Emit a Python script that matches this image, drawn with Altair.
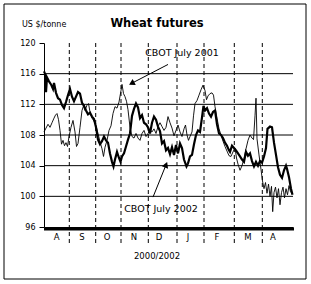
import altair as alt
import pandas as pd

# ---- data (x = trading-day index from start of August) ----
thick_day = [0, 1, 2, 3, 5, 7, 9, 10, 12, 14, 16, 18, 20, 22, 24, 26, 28, 30, 32, 34, 36, 38, 40, 42, 44, 46, 48, 50,
             52, 54, 56, 58, 60, 62, 64, 66, 68, 69.5, 71, 73, 75, 76.5, 78, 80, 82, 84, 86, 88, 90, 92, 94, 96, 98,
             100, 102, 104, 106, 108, 110, 112, 114, 116, 118, 120, 122, 124, 126, 128, 130, 132, 134, 136, 138, 140,
             142.5, 144, 146, 148, 150, 152, 154, 156, 158, 159.5, 161, 163, 165, 167, 169, 171, 173, 175, 177, 179,
             181, 183, 185, 186, 188, 190, 192, 194, 196, 198, 200, 202, 204, 206, 208, 210, 212, 214, 216, 218, 220,
             222, 223.5, 226, 228, 230, 232, 234, 236, 238, 240, 242, 243, 245, 247, 248.5]
thick_val = [116.3, 116.0, 113.6, 115.5, 115.0, 114.6, 114.0, 114.8, 113.5, 112.8, 112.6, 111.9, 111.5, 112.3, 113.2,
             114.0, 113.0, 112.4, 113.0, 113.6, 113.4, 112.2, 111.8, 111.2, 110.7, 110.9, 110.4, 110.1,
             109.0, 107.4, 106.8, 107.2, 107.8, 107.3, 107.0, 105.6, 104.5, 103.9, 104.8, 105.8, 105.0, 104.5, 105.2,
             105.6, 106.5, 107.4, 108.2, 110.5, 111.4, 112.1, 111.6, 110.2, 110.6,
             109.6, 109.4, 109.0, 108.2, 109.6, 110.4, 110.0, 109.1, 108.5, 106.9, 107.2, 106.0, 106.3, 105.5, 106.4,
             105.4, 106.7, 105.6, 106.9, 106.3, 104.8,
             103.9, 104.3, 105.2, 105.4, 106.8, 108.0, 108.6, 108.4, 110.3, 111.8, 111.2, 111.5, 110.8, 110.4, 111.0,
             111.2, 109.4, 108.2, 108.0, 107.6,
             107.0, 106.6, 106.0, 105.8, 106.6, 106.3, 106.0, 105.6, 105.2, 104.8, 104.5, 105.8, 105.3, 105.6, 104.6,
             103.9, 104.5, 104.0, 104.6, 104.4, 105.2,
             106.3, 108.8, 109.1, 109.0, 107.0, 105.4, 103.8, 102.8, 102.4, 103.4, 104.0, 103.6, 102.5, 101.0, 100.2]

thin_day = [0, 2, 4, 6, 8, 10, 11.5, 13, 14.5, 16, 17.5, 19, 20.5, 22, 23.5, 25, 27, 29, 31, 32.5, 34, 36, 38, 39.5,
            41, 43, 44.5, 46, 48, 50, 52, 54, 56, 58, 59.5, 61, 63, 65, 67, 69, 71, 73, 75, 77, 78, 79.5, 81, 82.5,
            84, 86, 88, 90, 92, 94, 96, 98, 100, 102, 104, 106, 108, 110, 112, 114, 116, 118, 120, 122, 124, 126,
            128, 130, 132, 134, 136, 138, 140, 141.5, 143, 144.5, 146, 148, 149.5, 151, 153, 155, 157, 159, 161,
            162.5, 164, 166, 168, 169.5, 171, 173, 175, 177, 179, 181, 183, 185, 187, 189, 191, 192.5, 194, 196,
            198, 200, 202, 204, 206, 208, 209.5, 211, 212, 213, 215, 217, 218.5, 220, 221.5, 223, 224.5, 226,
            227.5, 228.7, 230, 231.5, 233, 234.5, 236, 237.5, 239, 240.5, 242, 243.5, 245, 246.5, 248.5]
thin_val = [108.4, 108.9, 109.4, 109.0, 109.6, 110.2, 110.6, 110.8, 110.0, 108.6, 106.8, 107.3, 106.6, 107.0, 106.5,
            107.8, 109.0, 109.9, 108.4, 106.5, 106.9, 109.0, 111.2, 111.8,
            111.2, 111.9, 112.1, 111.0, 110.2, 109.8, 109.2, 108.2, 107.1, 106.2, 105.2, 106.4, 107.3, 108.6, 109.2,
            110.8, 111.7, 111.5, 112.3, 113.8, 114.6, 113.4, 113.0, 112.4,
            111.3, 109.0, 107.8, 107.6, 108.2, 107.6, 107.3, 108.2, 108.6, 107.8, 108.2, 108.7, 108.4, 108.8, 108.2,
            109.1, 109.6, 109.1, 108.6, 109.0, 110.4, 109.6,
            108.9, 107.9, 108.6, 109.3, 108.4, 107.8, 108.8, 109.3, 108.0, 107.3, 107.8, 108.4, 110.5, 112.1, 112.5,
            113.2, 113.9, 114.5, 113.8,
            112.6, 113.1, 113.4, 113.5, 113.2, 111.7, 110.2, 108.8, 108.0, 107.2, 106.5, 105.9, 105.3, 105.2, 105.8,
            106.3, 105.0, 104.2, 103.4,
            104.0, 104.9, 106.2, 107.3, 108.0, 107.6, 107.4, 110.5, 112.8, 107.5, 105.4, 103.5, 102.0, 101.0, 101.8,
            100.4, 101.6, 100.0,
            101.3, 98.0, 100.5, 101.2, 99.8, 101.0, 98.9, 100.5, 101.2, 99.8, 101.0, 100.2, 101.4, 100.6, 100.3]

month_labels = ["A", "S", "O", "N", "D", "J", "F", "M", "A"]
month_centers = [12.7, 38, 63, 90, 115, 144, 173, 204, 229]
month_bounds = [25.3, 51.7, 77, 104.3, 133, 160, 190.3, 218.3]
y_ticks = [96, 100, 104, 108, 112, 116, 120]
grid_vals = [100, 104, 108, 112, 116]

ann_text = ["CBOT July 2001", "CBOT July 2002"]
ann_x = [138, 117]
ann_y = [118.7, 98.4]
arrow_x = [124, 109]
arrow_y = [117.2, 99.9]
head_x = [88.5, 121.7]
head_y = [114.8, 104.0]
head_angle = [242, 22]

W, H = 249, 184
FONT = "DejaVu Sans"

xs = alt.Scale(domain=[0, 249], nice=False, zero=False)
ys = alt.Scale(domain=[96, 120], nice=False, zero=False)

XAX = alt.Axis(values=list(range(0, 250)), labels=False, title=None, grid=False,
               tickSize=3, tickColor="black", domainColor="black", domainWidth=1)
YAX = alt.Axis(values=y_ticks, title=None, grid=False, tickSize=5, tickColor="black",
               domainColor="black", labelColor="black", labelFontSize=8, labelFont=FONT,
               labelPadding=4, labelOverlap=False, labelFlush=False)


def X(f):
    return alt.X(f, type="quantitative", scale=xs, axis=XAX)


def Y(f):
    return alt.Y(f, type="quantitative", scale=ys, axis=YAX)


one = pd.DataFrame({"k": [0]})

frame = alt.Chart(one).mark_rect(fill=None, stroke="black", strokeWidth=1).encode(
    x=alt.value(-40), y=alt.value(-39), x2=alt.value(262), y2=alt.value(236))

grid = alt.Chart(pd.DataFrame({"v": grid_vals})).mark_rule(color="black", strokeWidth=1).encode(
    y=Y("v"), x=alt.value(0), x2=alt.value(W))

dashes = alt.Chart(pd.DataFrame({"d": month_bounds})).mark_rule(
    color="black", strokeWidth=1, strokeDash=[4, 3]).encode(
    x=X("d"), y=alt.value(0), y2=alt.value(202))

thin = alt.Chart(pd.DataFrame({"day": thin_day, "price": thin_val})).mark_line(
    color="black", strokeWidth=0.9).encode(x=X("day"), y=Y("price"), order="day:Q")

thick = alt.Chart(pd.DataFrame({"day": thick_day, "price": thick_val})).mark_line(
    color="black", strokeWidth=2.2).encode(x=X("day"), y=Y("price"), order="day:Q")

months = alt.Chart(pd.DataFrame({"m": month_labels, "c": month_centers})).mark_text(
    fontSize=8.5, font=FONT, color="black", baseline="middle").encode(
    x=X("c"), y=alt.value(194), text="m:N")

ann = pd.DataFrame({"t": ann_text, "x": ann_x, "y": ann_y, "ax": arrow_x, "ay": arrow_y,
                    "hx": head_x, "hy": head_y, "ang": head_angle})

ann_txt = alt.Chart(ann).mark_text(fontSize=9.5, font=FONT, color="black", baseline="middle").encode(
    x=X("x"), y=Y("y"), text="t:N")

ann_line = alt.Chart(ann).mark_rule(color="black", strokeWidth=1).encode(
    x=X("ax"), y=Y("ay"), x2="hx:Q", y2="hy:Q")

ann_head = alt.Chart(ann).mark_point(shape="triangle", filled=True, color="black", size=45, opacity=1).encode(
    x=X("hx"), y=Y("hy"), angle=alt.Angle("ang:Q", scale=None))

title = alt.Chart(one).mark_text(text="Wheat futures", fontSize=11.5, fontWeight="bold", font=FONT,
                                 color="black", baseline="middle").encode(
    x=alt.value(113), y=alt.value(-19))
unit = alt.Chart(one).mark_text(text="US $/tonne", fontSize=8, font=FONT, color="black",
                                align="left", baseline="middle").encode(
    x=alt.value(-22), y=alt.value(-18))
xtitle = alt.Chart(one).mark_text(text="2000/2002", fontSize=8.5, font=FONT, color="black",
                                  baseline="middle").encode(
    x=alt.value(113), y=alt.value(213))

chart = alt.layer(frame, grid, dashes, thin, thick, months, ann_line, ann_head, ann_txt,
                  title, unit, xtitle).properties(
    width=W, height=H,
    autosize=alt.AutoSizeParams(type="none"),
    padding={"left": 44, "top": 43, "right": 18, "bottom": 57},
    background="white",
).configure_view(stroke=None)

chart.save("out.html", embed_options={"renderer": "svg", "actions": False})
